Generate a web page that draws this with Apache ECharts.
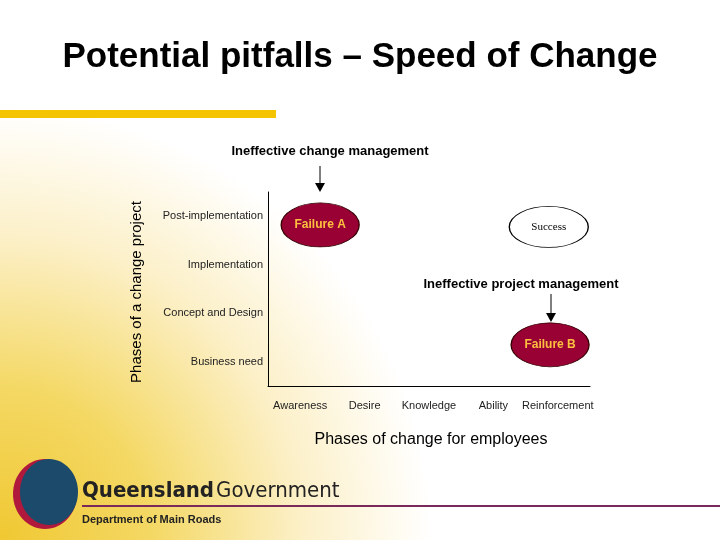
<!DOCTYPE html>
<html><head><meta charset="utf-8">
<script src="https://cdn.jsdelivr.net/npm/echarts@6/dist/echarts.min.js"></script>
<style>html,body{margin:0;padding:0;}#c{width:720px;height:540px;}</style>
</head><body><div id="c"></div>
<script>
const xCategories = ['Awareness','Desire','Knowledge','Ability','Reinforcement'];
const yCategories = ['Business need','Concept and Design','Implementation','Post-implementation'];
const outcomes = [
  {name:'Failure A', x:0.81, y:3.32, kind:'fail'},
  {name:'Success', x:4.36, y:3.28, kind:'ok'},
  {name:'Failure B', x:4.38, y:0.85, kind:'fail'}
];
const chart = echarts.init(document.getElementById('c'));
const F = 'Arial, "Liberation Sans", sans-serif';
function arrow(x, y1, y2){
  return [
    {type:'line', shape:{x1:x,y1:y1,x2:x,y2:y2-8}, style:{stroke:'#000',lineWidth:1}},
    {type:'polygon', shape:{points:[[x-5,y2-9],[x+5,y2-9],[x,y2]]}, style:{fill:'#000'}}
  ];
}
chart.setOption({
  backgroundColor:'#fff',
  graphic:[
    {type:'rect', z:-10, shape:{x:0,y:0,width:720,height:540},
     style:{fill:{type:'radial',x:0,y:1,r:0.8,colorStops:[
       {offset:0,color:'#f0c832'},{offset:0.35,color:'#f4d864'},{offset:0.7,color:'#fcf0c8'},{offset:1,color:'#ffffff'}]}}},
    {type:'rect', shape:{x:0,y:110,width:276,height:8}, style:{fill:'#f5c400'}},
    {type:'text', x:360, y:57, style:{text:'Potential pitfalls – Speed of Change', font:'bold 35px '+F, fill:'#000', align:'center', verticalAlign:'middle'}},
    {type:'text', x:330, y:151, style:{text:'Ineffective change management', font:'bold 13px '+F, fill:'#000', align:'center', verticalAlign:'middle'}},
    ...arrow(320,166,192),
    {type:'text', x:521, y:284, style:{text:'Ineffective project management', font:'bold 13px '+F, fill:'#000', align:'center', verticalAlign:'middle'}},
    ...arrow(551,294,322),
    {type:'text', x:431, y:440, style:{text:'Phases of change for employees', font:'16px '+F, fill:'#000', align:'center', verticalAlign:'middle'}},
    {type:'text', x:137, y:292, rotation:Math.PI/2, style:{text:'Phases of a change project', font:'15px '+F, fill:'#000', align:'center', verticalAlign:'middle'}},
    {type:'ellipse', shape:{cx:45,cy:494,rx:32,ry:35}, style:{fill:'#b0183c'}},
    {type:'ellipse', shape:{cx:49,cy:492,rx:29,ry:33}, style:{fill:'#1b4a6b'}},
    {type:'text', x:82, y:491, style:{
      text:'{b|Queensland}{n|Government}', verticalAlign:'middle',
      rich:{b:{font:'bold 22px "Liberation Sans Narrow", "DejaVu Sans Condensed", sans-serif', fill:'#222'},
            n:{font:'22px "Liberation Sans Narrow", "DejaVu Sans Condensed", sans-serif', fill:'#222', padding:[0,0,0,2]}}}},
    {type:'line', shape:{x1:82,y1:506,x2:720,y2:506}, style:{stroke:'#7a2a5a',lineWidth:2}},
    {type:'text', x:82, y:520, style:{text:'Department of Main Roads', font:'bold 11px "Liberation Sans Narrow", sans-serif', fill:'#222', verticalAlign:'middle'}}
  ],
  grid:{left:268, right:130, top:192, bottom:154},
  xAxis:[
    {type:'category', data:xCategories, axisLine:{lineStyle:{color:'#000'}}, axisTick:{show:false},
     axisLabel:{color:'#222', fontSize:11, fontFamily:F, margin:14, interval:0}},
    {type:'value', min:0, max:5, show:false}
  ],
  yAxis:[
    {type:'category', data:yCategories, axisLine:{lineStyle:{color:'#000'}}, axisTick:{show:false},
     axisLabel:{color:'#222', fontSize:11, fontFamily:F, margin:5, interval:0}},
    {type:'value', min:0, max:4, show:false}
  ],
  series:[{
    type:'scatter', xAxisIndex:1, yAxisIndex:1, symbol:'circle',
    data: outcomes.map(o=>({
      value:[o.x,o.y], name:o.name,
      symbolSize: o.kind==='fail'?[78,44]:[79,41],
      itemStyle: o.kind==='fail'?{color:'#990033',borderColor:'#330000',borderWidth:1,opacity:1}:{color:'#fff',borderColor:'#000',borderWidth:1,opacity:1},
      label:{show:true, formatter:'{b}', position:'inside',
        color:o.kind==='fail'?'#ffc040':'#000', fontWeight:o.kind==='fail'?'bold':'normal',
        fontSize:o.kind==='fail'?12:11, fontFamily:o.kind==='fail'?F:'"Liberation Serif", serif'}
    }))
  }]
});
</script></body></html>
